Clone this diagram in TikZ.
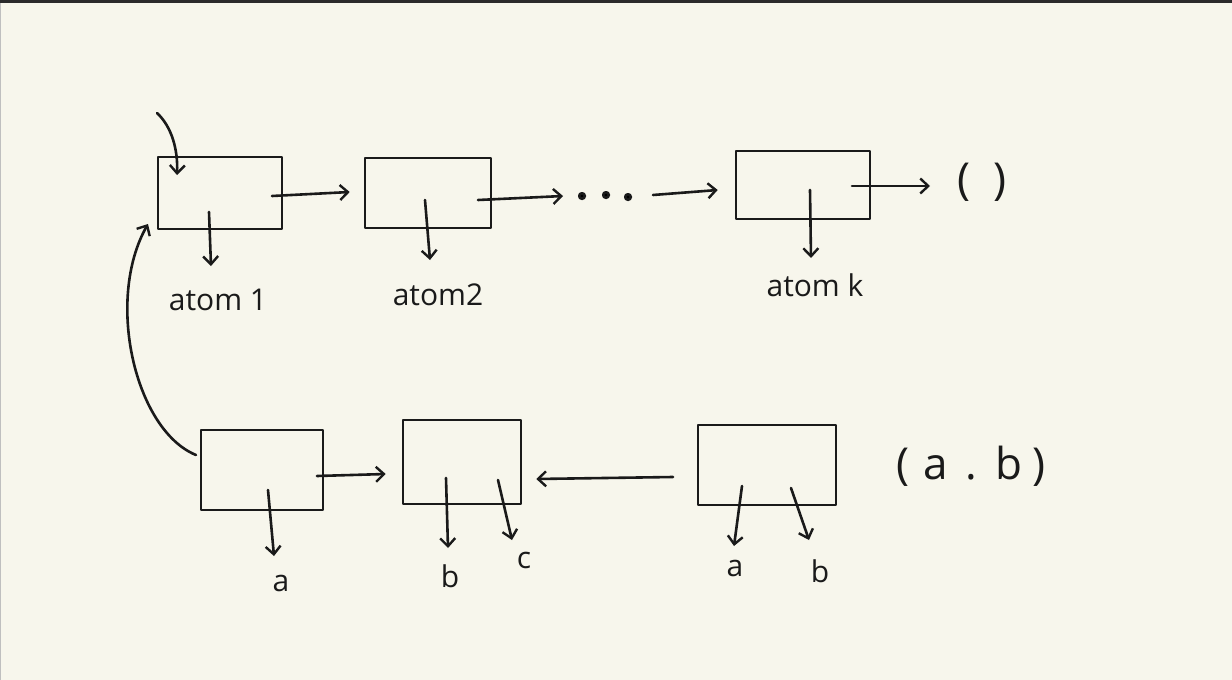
\documentclass[tikz,border=0pt]{standalone}
\usepackage{fontspec}
\setmainfont{Open Sans}
\usetikzlibrary{arrows.meta}
\definecolor{paper}{HTML}{F7F6EC}
\definecolor{ink}{HTML}{1A1A1A}
\definecolor{frame}{HTML}{2B2B2B}
\begin{document}
\begin{tikzpicture}[x=1pt,y=-1pt,
  ink/.style={draw=ink,line width=2.6pt,line cap=round,line join=round},
  cell/.style={ink,rectangle,inner sep=0pt},
  arr/.style={ink,-{Straight Barb[length=8pt,width=15pt,line width=2.4pt]}},
  lbl/.style={text=ink,font=\fontsize{30}{34}\selectfont,inner sep=1pt}]
\useasboundingbox (0,0) rectangle (1232,680);
\fill[paper] (0,0) rectangle (1232,680);
\fill[frame] (0,0) rectangle (1232,3);
\draw[gray!50,line width=1pt] (0.5,3) -- (0.5,680);

% top row cells
\node[cell,minimum width=124pt,minimum height=72pt] (b1) at (220,193) {};
\node[cell,minimum width=126pt,minimum height=70pt] (b2) at (428,193) {};
\node[cell,minimum width=134pt,minimum height=68pt] (b3) at (803,185) {};

% bottom row cells
\node[cell,minimum width=122pt,minimum height=80pt] (b4) at (262,470) {};
\node[cell,minimum width=118pt,minimum height=84pt] (b5) at (462,462) {};
\node[cell,minimum width=138pt,minimum height=80pt] (b6) at (767,465) {};

% labels
\node[lbl] (l1) at (218,300) {atom 1};
\node[lbl] (l2) at (438,295) {atom2};
\node[lbl] (l3) at (815,285) {atom k};
\node[lbl,font=\fontsize{44}{48}\selectfont] (nil) at (982,182) {(\hspace{22pt})};
\node[lbl] (la) at (281,583) {a};
\node[lbl] (lb) at (450,576) {b};
\node[lbl] (lc) at (524,560) {c};
\node[lbl] (la2) at (735,568) {a};
\node[lbl] (lb2) at (820,571) {b};
\node[lbl,font=\fontsize{44}{48}\selectfont] (pair) at (971,466) {(\hspace{14pt}a\hspace{18pt}.\hspace{18pt}b\hspace{10pt})};

% pointer origins and free ends
\coordinate (p1d) at (209,212);  \coordinate (e1d) at (211,266);
\coordinate (p1r) at (272,196);
\coordinate (p2d) at (425,200);  \coordinate (e2d) at (430,260);
\coordinate (p2r) at (478,200);
\coordinate (p3d) at (810,190);  \coordinate (e3d) at (811,258);
\coordinate (p3r) at (852,186);
\coordinate (p4d) at (268,490);  \coordinate (e4d) at (274,556);
\coordinate (p4r) at (317,476);
\coordinate (p5b) at (446,478);  \coordinate (e5b) at (448,548);
\coordinate (p5c) at (498,480);  \coordinate (e5c) at (512,540);
\coordinate (p6a) at (742,486);  \coordinate (e6a) at (734,546);
\coordinate (p6b) at (791,488);  \coordinate (e6b) at (809,540);
\coordinate (d1) at (563,196);
\coordinate (d2) at (653,195);
\coordinate (top) at (157,113);
\coordinate (topend) at (177,175);
\coordinate (loopstart) at (196,455);
\coordinate (loopend) at (148,224);
\coordinate (b6l) at (673,477);

% dots
\foreach \x/\y in {582/196,606/195,628/197}
  \fill[ink] (\x,\y) circle (2.8pt);

% top row connectors
\draw[arr] (top) .. controls (172,127) and (178,150) .. (topend);
\draw[arr] (p1r) -- ([xshift=-14pt]b2.west |- 0,192);
\draw[arr] (p1d) -- (e1d);
\draw[arr] (p2d) -- (e2d);
\draw[arr] (p2r) -- (d1);
\draw[arr] (d2) -- ([xshift=-17pt]b3.west |- 0,190);
\draw[arr] (p3d) -- (e3d);
\draw[arr] (p3r) -- (930,186);

% bottom row connectors
\draw[arr] (loopstart) .. controls (135,430) and (105,300) .. (loopend);
\draw[arr] (p4d) -- (e4d);
\draw[arr] (p4r) -- ([xshift=-16pt]b5.west |- 0,474);
\draw[arr] (b6l) -- ([xshift=14pt]b5.east |- 0,479);
\draw[arr] (p5b) -- (e5b);
\draw[arr] (p5c) -- (e5c);
\draw[arr] (p6a) -- (e6a);
\draw[arr] (p6b) -- (e6b);
\end{tikzpicture}
\end{document}
